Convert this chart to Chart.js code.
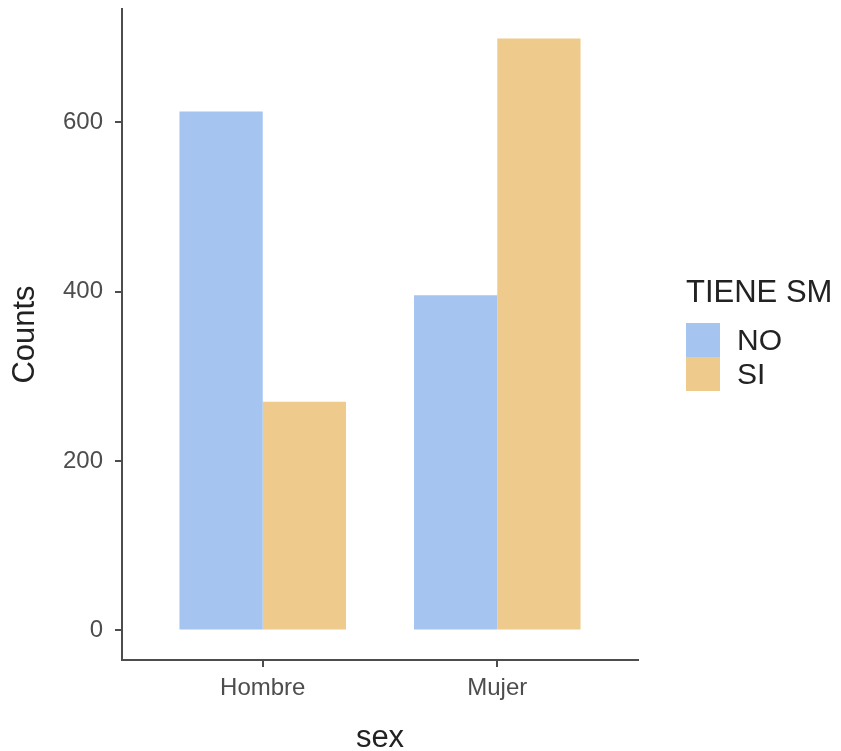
<!DOCTYPE html>
<html>
<head>
<meta charset="utf-8">
<script src="https://cdn.jsdelivr.net/npm/chart.js@4/dist/chart.umd.min.js"></script>
<style>
  body { margin: 0; background: #fff; }
  #wrap { position: relative; width: 841px; height: 751px; font-family: "Liberation Sans", Arial, sans-serif; }
  #legend { position: absolute; left: 686px; top: 276px; color: #222; }
  #legend .title { font-size: 31px; line-height: 31px; margin-bottom: 16px; }
  #legend .row { display: flex; align-items: center; height: 34px; }
  #legend .box { width: 34px; height: 34px; margin-right: 17px; }
  #legend .lbl { font-size: 30px; line-height: 34px; }
</style>
</head>
<body>
<div id="wrap">
  <canvas id="chart" width="841" height="751"></canvas>
  <div id="legend"></div>
</div>
<script>
// datos
const categories = ['Hombre', 'Mujer'];
const xPositions = [1, 2];
const seriesNames = ['NO', 'SI'];
const noCounts = [613, 396];
const siCounts = [270, 699];
const yTicks = [0, 200, 400, 600];
const legendTitle = 'TIENE SM';

const colors = ['#A6C4F0', '#EECB8C'];
const axisColor = '#4d4d4d';

function buildLegend() {
    const el = document.getElementById('legend');
    let html = `<div class="title">${legendTitle}</div>`;
    seriesNames.forEach((name, i) => {
        html += `<div class="row"><span class="box" style="background:${colors[i]}"></span><span class="lbl">${name}</span></div>`;
    });
    el.innerHTML = html;
}

function renderChart() {
    const ctx = document.getElementById('chart');
    const series = [noCounts, siCounts];

    new Chart(ctx, {
        type: 'bar',
        data: {
            datasets: seriesNames.map((name, i) => ({
                label: name,
                data: series[i].map((v, j) => ({ x: xPositions[j], y: v })),
                backgroundColor: colors[i],
                borderWidth: 0,
                categoryPercentage: 0.71,
                barPercentage: 1
            }))
        },
        options: {
            responsive: false,
            animation: false,
            layout: { padding: { top: 9, right: 203, left: 0, bottom: 0 } },
            plugins: {
                legend: { display: false },
                tooltip: { enabled: false }
            },
            scales: {
                x: {
                    type: 'linear',
                    min: 0.4,
                    max: 2.6,
                    offset: false,
                    afterBuildTicks: s => { s.ticks = xPositions.map(v => ({ value: v })); },
                    afterFit: s => { s.height = 91; s.paddingLeft = 0; s.paddingRight = 0; },
                    grid: { display: true, offset: false, drawOnChartArea: false, drawTicks: true, tickLength: 7, color: axisColor, lineWidth: 2 },
                    border: { display: true, color: axisColor, width: 2 },
                    ticks: {
                        color: axisColor,
                        font: { family: 'Liberation Sans', size: 24 },
                        padding: 7,
                        maxRotation: 0,
                        callback: v => categories[xPositions.indexOf(v)]
                    },
                    title: {
                        display: true,
                        text: 'sex',
                        color: '#222',
                        font: { family: 'Liberation Sans', size: 31, lineHeight: 1 },
                        padding: { top: 0, bottom: -3 }
                    }
                },
                y: {
                    min: -34.95,
                    max: 733.95,
                    afterBuildTicks: s => { s.ticks = yTicks.map(v => ({ value: v })); },
                    afterFit: s => { s.width = 122; s.paddingTop = 0; s.paddingBottom = 0; },
                    grid: { display: true, drawOnChartArea: false, drawTicks: true, tickLength: 7, color: axisColor, lineWidth: 2 },
                    border: { display: true, color: axisColor, width: 2 },
                    ticks: {
                        color: axisColor,
                        font: { family: 'Liberation Sans', size: 24 },
                        padding: 12
                    },
                    title: {
                        display: true,
                        text: 'Counts',
                        color: '#222',
                        font: { family: 'Liberation Sans', size: 31, lineHeight: 1 },
                        padding: { top: 10, bottom: 0 }
                    }
                }
            }
        }
    });
}

buildLegend();
renderChart();
</script>
</body>
</html>
